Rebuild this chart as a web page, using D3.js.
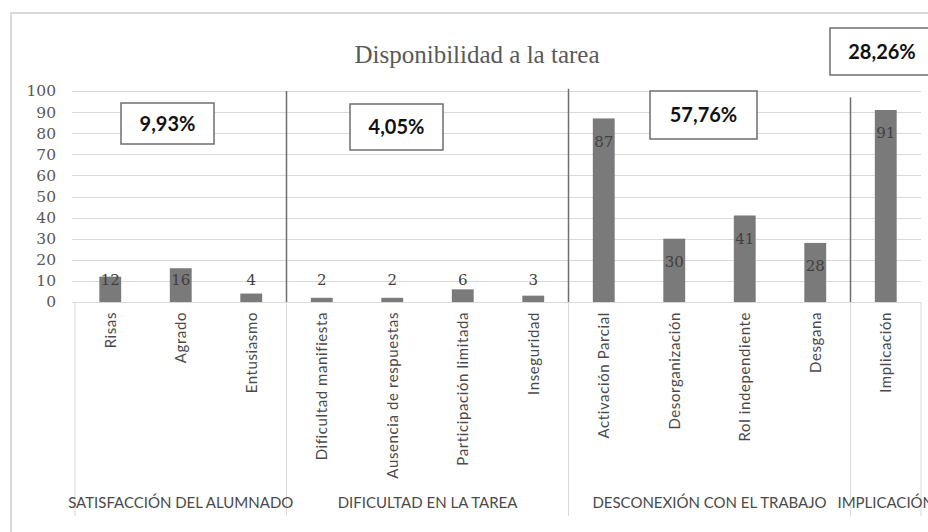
<!DOCTYPE html>
<meta charset="utf-8">
<style>
    body { margin: 0; background: #fff; }
    .title { font-family: "Liberation Serif", serif; fill: #595959; }
    .axis--y text { font-family: "DejaVu Serif", serif; font-size: 15.5px; fill: #595959; }
    .axis--y path, .axis--y line { display: none; }
    .grid line { stroke: #d9d9d9; stroke-width: 1; }
    .bar { fill: #7a7a7a; }
    .val { font-family: "DejaVu Serif", serif; font-size: 15px; fill: #404040; text-anchor: middle; }
    .cat { font-family: Lato, sans-serif; font-size: 15px; letter-spacing: 0.6px; fill: #4a4a4a; }
    .grp { font-family: Lato, sans-serif; font-size: 15px; fill: #4a4a4a; text-anchor: middle; }
    .sep { stroke: #6e6e6e; stroke-width: 1.5; }
    .low { stroke: #d9d9d9; stroke-width: 1; }
    .pct rect { fill: #fff; stroke: #6e6e6e; stroke-width: 1.5; }
    .pct text { font-family: Lato, sans-serif; font-weight: bold; font-size: 20px; fill: #111; text-anchor: middle; }
</style>

<svg width="928" height="532"></svg>

<script src="https://cdn.jsdelivr.net/npm/d3@7"></script>
<script>

    // DATA

    var categories = ["Risas", "Agrado", "Entusiasmo",
        "Dificultad manifiesta", "Ausencia de respuestas", "Participación limitada", "Inseguridad",
        "Activación Parcial", "Desorganización", "Rol independiente", "Desgana",
        "Implicación"];
    var values = [12, 16, 4, 2, 2, 6, 3, 87, 30, 41, 28, 91];
    var groups = ["SATISFACCIÓN DEL ALUMNADO", "DIFICULTAD EN LA TAREA",
        "DESCONEXIÓN CON EL TRABAJO", "IMPLICACIÓN"];
    var groupSizes = [3, 4, 4, 1];
    var groupPercents = ["9,93%", "4,05%", "57,76%", "28,26%"];
    var yTicks = [0, 10, 20, 30, 40, 50, 60, 70, 80, 90, 100];

    // SETUP

    var svg = d3.select("svg");

    var x = d3.scaleBand().domain(categories).range([75, 921]).paddingInner(0.69).paddingOuter(0.345),
        y = d3.scaleLinear().domain([0, 100]).range([302, 91]);

    var step = x.step(),
        x0 = 75;

    // chart frame
    svg.append("rect")
        .attr("x", 11).attr("y", 13).attr("width", 940).attr("height", 540)
        .attr("fill", "none").attr("stroke", "#d9d9d9").attr("stroke-width", 2);

    svg.append("text")
        .attr("class", "title")
        .attr("x", 477).attr("y", 63)
        .attr("text-anchor", "middle")
        .style("font-size", "25px")
        .text("Disponibilidad a la tarea");

    // gridlines
    svg.append("g").attr("class", "grid")
        .selectAll("line").data(yTicks)
        .enter().append("line")
        .attr("x1", 72).attr("x2", 921)
        .attr("y1", function (d) { return Math.round(y(d)) + 0.5; })
        .attr("y2", function (d) { return Math.round(y(d)) + 0.5; });

    svg.append("g")
        .attr("class", "axis axis--y")
        .attr("transform", "translate(62,0)")
        .call(d3.axisLeft(y).tickValues(yTicks).tickSize(0).tickPadding(6));

    // group boundaries
    var bounds = [0];
    groupSizes.forEach(function (n, i) { bounds.push(bounds[i] + n); });

    svg.append("g").selectAll("line").data(bounds)
        .enter().append("line")
        .attr("class", "low")
        .attr("x1", function (d) { return x0 + d * step; })
        .attr("x2", function (d) { return x0 + d * step; })
        .attr("y1", y(0)).attr("y2", 516);

    var sepTop = [100, 101, 97];
    svg.append("g").selectAll("line").data(bounds.slice(1, -1))
        .enter().append("line")
        .attr("class", "sep")
        .attr("x1", function (d) { return x0 + d * step; })
        .attr("x2", function (d) { return x0 + d * step; })
        .attr("y1", function (d, i) { return y(sepTop[i]); })
        .attr("y2", y(0));

    // bars
    svg.append("g").selectAll(".bar")
        .data(values)
        .enter().append("rect")
        .attr("class", "bar")
        .attr("x", function (d, i) { return x(categories[i]); })
        .attr("y", function (d) { return y(d); })
        .attr("width", x.bandwidth())
        .attr("height", function (d) { return y(0) - y(d); });

    svg.append("g").selectAll(".val")
        .data(values)
        .enter().append("text")
        .attr("class", "val")
        .attr("x", function (d, i) { return x(categories[i]) + x.bandwidth() / 2; })
        .attr("y", function (d) { return Math.min(y(d) + 23, y(10.5)); })
        .attr("dy", "0.35em")
        .text(function (d) { return d; });

    // category labels
    svg.append("g").selectAll(".cat")
        .data(categories)
        .enter().append("text")
        .attr("class", "cat")
        .attr("text-anchor", "end")
        .attr("transform", function (d) {
            return "translate(" + (x(d) + x.bandwidth() / 2) + ",312) rotate(-90)";
        })
        .attr("dy", "0.35em")
        .text(function (d) { return d; });

    // group labels
    svg.append("g").selectAll(".grp")
        .data(groups)
        .enter().append("text")
        .attr("class", "grp")
        .attr("x", function (d, i) { return x0 + (bounds[i] + bounds[i + 1]) / 2 * step; })
        .attr("y", 508)
        .text(function (d) { return d; });

    // percentage boxes
    var boxPos = [
        { x: 121, y: 103, w: 93, h: 41 },
        { x: 350, y: 104, w: 93, h: 46 },
        { x: 650, y: 91, w: 107, h: 48 },
        { x: 830, y: 28, w: 106, h: 47 }
    ];

    var pct = svg.append("g").selectAll(".pct")
        .data(groupPercents)
        .enter().append("g")
        .attr("class", "pct");

    pct.append("rect")
        .attr("x", function (d, i) { return boxPos[i].x; })
        .attr("y", function (d, i) { return boxPos[i].y; })
        .attr("width", function (d, i) { return boxPos[i].w; })
        .attr("height", function (d, i) { return boxPos[i].h; });

    pct.append("text")
        .attr("x", function (d, i) { return i === 3 ? 882 : boxPos[i].x + boxPos[i].w / 2; })
        .attr("y", function (d, i) { return boxPos[i].y + boxPos[i].h / 2; })
        .attr("dy", "0.35em")
        .text(function (d) { return d; });

</script>
